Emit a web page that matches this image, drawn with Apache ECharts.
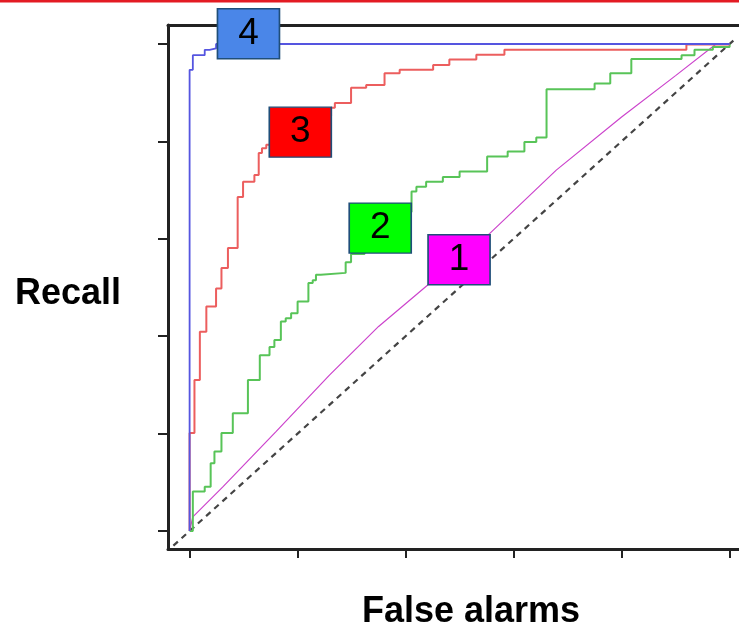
<!DOCTYPE html>
<html>
<head>
<meta charset="utf-8">
<script src="https://cdn.jsdelivr.net/npm/echarts@6/dist/echarts.min.js"></script>
<style>html,body{margin:0;padding:0;background:#fff;}#c{width:739px;height:627px;}</style>
</head>
<body>
<div id="c"></div>
<script>
// ROC curves as [false alarm rate, recall] corner points (step drawn)
const curve4 = [[0,0],[0,0.947],[0.006,0.977],[0.028,0.988],[0.037,0.991],[0.049,1.0],[1,1]];
const curve3 = [[0,0],[0,0.201],[0.009,0.310],[0.019,0.409],[0.031,0.461],[0.049,0.498],[0.059,0.540],
  [0.071,0.581],[0.089,0.686],[0.099,0.717],[0.120,0.731],[0.128,0.776],[0.134,0.786],[0.142,0.793],
  [0.167,0.811],[0.204,0.832],[0.237,0.852],[0.262,0.869],[0.269,0.879],[0.299,0.910],[0.327,0.916],
  [0.361,0.940],[0.389,0.947],[0.451,0.957],[0.481,0.968],[0.531,0.978],[0.583,0.988],[0.920,0.999],[1,1]];
const curve2 = [[0,0],[0.006,0.081],[0.028,0.091],[0.039,0.139],[0.046,0.163],[0.059,0.201],[0.080,0.242],
  [0.108,0.310],[0.130,0.361],[0.148,0.378],[0.157,0.392],[0.169,0.430],[0.178,0.437],[0.188,0.447],
  [0.200,0.471],[0.220,0.509],[0.228,0.515],[0.234,0.526],[0.243,0.530],[0.289,0.552],[0.299,0.569],
  [0.324,0.598],[0.352,0.628],[0.380,0.655],[0.411,0.697],[0.420,0.707],[0.438,0.717],[0.469,0.727],
  [0.500,0.738],[0.551,0.769],[0.589,0.779],[0.620,0.799],[0.642,0.808],[0.661,0.907],[0.750,0.919],
  [0.779,0.940],[0.818,0.969],[0.911,0.977],[0.935,0.988],[0.969,0.994],[1,1]];
const curve1 = [[0,0],[0.006,0.029],[0.062,0.091],[0.160,0.204],[0.259,0.320],[0.350,0.420],[0.441,0.505],
  [0.556,0.611],[0.679,0.741],[0.800,0.850],[0.900,0.935],[0.975,1.0],[1,1]];
const chanceLine = [[-0.03,-0.03],[1.01,1.01]];
// Annotation boxes
const boxNames = ['1','2','3','4'];
const boxX = [0.499, 0.353, 0.205, 0.109];
const boxY = [0.557, 0.622, 0.819, 1.021];
const boxColors = ['#ff00ff','#00ff00','#ff0000','#4a86e8'];
const tickValues = [0, 0.2, 0.4, 0.6, 0.8, 1];

const chart = echarts.init(document.getElementById('c'), null, {renderer: 'canvas'});
const boxData = boxNames.map((n, i) => ({
  value: [boxX[i], boxY[i]], name: n,
  itemStyle: {color: boxColors[i], borderColor: '#1f4e79', borderWidth: 1.5, opacity: 1}
}));
const stepSeries = (data, color, width, z) => ({
  type: 'line', data, step: 'end', showSymbol: false, symbol: 'none', z,
  lineStyle: {color, width}, silent: true
});
const frameLine = {show: true, onZero: false, lineStyle: {color: '#222', width: 3}};
chart.setOption({
  animation: false,
  backgroundColor: '#fff',
  graphic: [
    {type: 'rect', shape: {x: 0, y: 0, width: 739, height: 2.5}, style: {fill: '#e31b23'}, z: 100},
    {type: 'text', left: 15, top: 276, style: {text: 'Recall', font: 'bold 36px "Liberation Sans", Arial, sans-serif', fill: '#000'}},
    {type: 'text', left: 362, top: 594, style: {text: 'False alarms', font: 'bold 36px "Liberation Sans", Arial, sans-serif', fill: '#000'}}
  ],
  grid: {left: 168, right: 0, top: 25, bottom: 78, show: false},
  xAxis: [{
    type: 'value', min: -0.04, max: 1.0174, position: 'bottom',
    axisLine: frameLine,
    axisTick: {show: true, inside: false, length: 9, customValues: tickValues, lineStyle: {color: '#222', width: 2}},
    axisLabel: {show: false}, splitLine: {show: false}
  }, {
    type: 'value', min: -0.04, max: 1.0174, position: 'top',
    axisLine: frameLine, axisTick: {show: false}, axisLabel: {show: false}, splitLine: {show: false}
  }],
  yAxis: {
    type: 'value', min: -0.037, max: 1.039,
    axisLine: frameLine,
    axisTick: {show: true, inside: false, length: 10, customValues: tickValues, lineStyle: {color: '#222', width: 2}},
    axisLabel: {show: false}, splitLine: {show: false}
  },
  series: [
    {type: 'line', data: chanceLine, showSymbol: false, symbol: 'none', z: 1,
     lineStyle: {color: '#444', width: 2.2, type: [6, 5]}},
    {type: 'line', data: curve1, showSymbol: false, symbol: 'none', z: 2, lineStyle: {color: '#cc44cc', width: 1.2}},
    stepSeries(curve2, '#58c458', 2, 3),
    stepSeries(curve3, '#ec5e5e', 2, 4),
    stepSeries(curve4, '#5555e0', 1.8, 5),
    {type: 'scatter', data: boxData, symbol: 'rect', symbolSize: [62, 50], clip: false, z: 10,
     label: {show: true, position: 'inside', formatter: '{b}', color: '#000', fontSize: 37, fontFamily: '"Liberation Sans", Arial, sans-serif'}}
  ]
});
</script>
</body>
</html>
